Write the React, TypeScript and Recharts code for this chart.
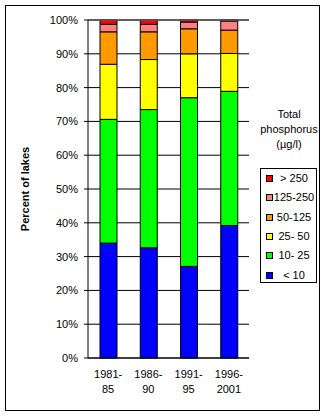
import React from 'react';
import { BarChart, Bar, XAxis, YAxis, CartesianGrid, ReferenceLine } from 'recharts';

// share of lakes per total phosphorus class (percent)
const periods = ['1981-85', '1986-90', '1991-95', '1996-2001'];
const periodLines = [
  ['1981-', '85'],
  ['1986-', '90'],
  ['1991-', '95'],
  ['1996-', '2001'],
];
const under10 = [34.0, 32.6, 27.1, 39.2];
const p10to25 = [36.6, 40.9, 49.9, 39.7];
const p25to50 = [16.3, 14.8, 13.0, 11.2];
const p50to125 = [9.6, 8.2, 7.4, 6.9];
const p125to250 = [2.2, 2.2, 2.0, 2.7];
const over250 = [1.3, 1.3, 0.6, 0.3];

const yTicks = [0, 10, 20, 30, 40, 50, 60, 70, 80, 90, 100];
const edgeTicks = [0, 1, 2, 3, 4];

// bottom to top
const classes = [
  { key: 'lt10', label: '< 10', color: '#0000FF', values: under10 },
  { key: 'c10', label: '10- 25', color: '#00FF00', values: p10to25 },
  { key: 'c25', label: '25- 50', color: '#FFFF00', values: p25to50 },
  { key: 'c50', label: '50-125', color: '#FF9900', values: p50to125 },
  { key: 'c125', label: '125-250', color: '#FF8080', values: p125to250 },
  { key: 'gt250', label: '> 250', color: '#FF0000', values: over250 },
];

const data = periods.map((period, i) => {
  const row: Record<string, string | number> = { period };
  classes.forEach((c) => {
    row[c.key] = c.values[i];
  });
  return row;
});

const font = '"Liberation Sans", Arial, sans-serif';

const PeriodTick = (props: any) => {
  const { x, y, index } = props;
  const lines = periodLines[index] || [];
  return (
    <text x={x} y={y} textAnchor="middle" fontSize={11} fill="#000" fontFamily={font}>
      <tspan x={x} dy={12}>{lines[0]}</tspan>
      <tspan x={x} dy={15}>{lines[1]}</tspan>
    </text>
  );
};

const YTitle = (props: any) => {
  const { viewBox } = props;
  const x = viewBox.x - 15;
  const y = viewBox.y + viewBox.height / 2;
  return (
    <text
      x={x}
      y={y}
      transform={`rotate(-90, ${x}, ${y})`}
      textAnchor="middle"
      dominantBaseline="central"
      fontSize={11}
      fontWeight="bold"
      fill="#000"
      fontFamily={font}
    >
      Percent of lakes
    </text>
  );
};

export default function App() {
  return (
    <div
      style={{
        position: 'absolute',
        left: 0,
        top: 0,
        width: 328,
        height: 416,
        background: '#fff',
        fontFamily: font,
      }}
    >
      <div
        style={{
          position: 'absolute',
          left: 5,
          top: 5,
          width: 313,
          height: 404,
          border: '1px solid #000',
        }}
      />
      <div style={{ position: 'absolute', left: 0, top: 0 }}>
        <BarChart
          width={328}
          height={416}
          data={data}
          margin={{ top: 20, right: 79, bottom: 18, left: 40 }}
        >
          <CartesianGrid xAxisId="cat" vertical={false} stroke="#000" fill="none" />
          <XAxis
            xAxisId="edge"
            type="number"
            domain={[0, 4]}
            ticks={edgeTicks}
            allowDataOverflow
            height={0}
            tick={false}
            axisLine={false}
            tickLine={{ stroke: '#000' }}
            tickSize={4}
          />
          <XAxis
            xAxisId="cat"
            dataKey="period"
            height={40}
            tickLine={false}
            axisLine={{ stroke: '#000' }}
            tick={<PeriodTick />}
            interval={0}
          />
          <YAxis
            width={48}
            domain={[0, 100]}
            ticks={yTicks}
            tickFormatter={(v) => `${v}%`}
            tickLine={{ stroke: '#000' }}
            tickSize={4}
            tickMargin={6}
            axisLine={{ stroke: '#000' }}
            tick={{ fill: '#000', fontSize: 11, fontFamily: font }}
            label={<YTitle />}
          />
          <ReferenceLine y={100} xAxisId="cat" stroke="#808080" />
          <ReferenceLine x={4} xAxisId="edge" stroke="#808080" />
          {classes.map((c) => (
            <Bar
              key={c.key}
              xAxisId="cat"
              dataKey={c.key}
              stackId="a"
              fill={c.color}
              stroke="#000"
              strokeWidth={1}
              barSize={17}
              isAnimationActive={false}
            />
          ))}
        </BarChart>
      </div>

      <div
        style={{
          position: 'absolute',
          left: 250,
          top: 107,
          width: 78,
          textAlign: 'center',
          fontSize: 11,
          lineHeight: '15px',
          color: '#000',
        }}
      >
        Total
        <br />
        phosphorus
        <br />
        (µg/l)
      </div>

      <div
        style={{
          position: 'absolute',
          left: 260,
          top: 168,
          width: 55,
          height: 113,
          border: '1px solid #000',
        }}
      >
        {[...classes].reverse().map((c, i) => (
          <div
            key={c.key}
            style={{
              position: 'absolute',
              left: 0,
              top: 2 + i * 19.3,
              width: 55,
              height: 15,
              fontSize: 11,
              lineHeight: '15px',
            }}
          >
            <div
              style={{
                position: 'absolute',
                left: 5,
                top: 4,
                width: 5,
                height: 5,
                background: c.color,
                border: '0.5px solid #000',
              }}
            />
            <div
              style={{
                position: 'absolute',
                left: 11,
                top: 0,
                width: 44,
                textAlign: 'center',
                whiteSpace: 'nowrap',
              }}
            >
              {c.label}
            </div>
          </div>
        ))}
      </div>
    </div>
  );
}
